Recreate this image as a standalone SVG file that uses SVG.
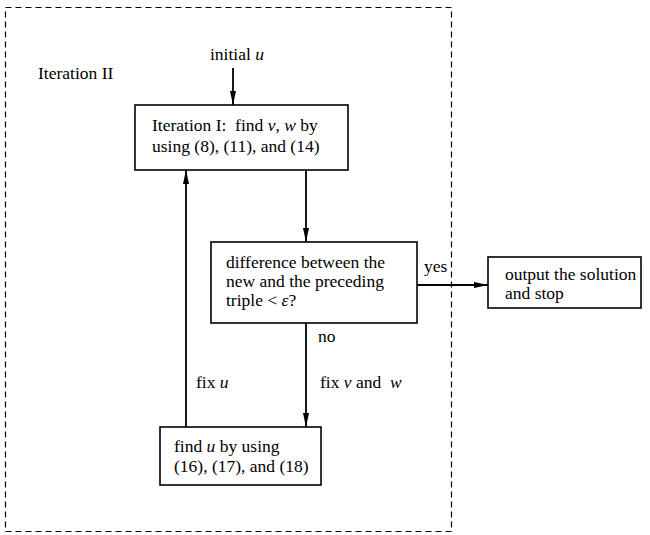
<svg xmlns="http://www.w3.org/2000/svg" width="650" height="535" viewBox="0 0 650 535">
<style>
text{font-family:"Liberation Serif","Times New Roman",serif;font-size:17.5px;fill:#000}
.box{fill:#fff;stroke:#000;stroke-width:1.6}
.ln{stroke:#000;stroke-width:1.8;fill:none}
.dash{fill:none;stroke:#000;stroke-width:1.2;stroke-dasharray:6,4}
</style>
<defs>
<marker id="ah" markerWidth="14" markerHeight="8" refX="14" refY="4" orient="auto" markerUnits="userSpaceOnUse">
<path d="M0,1 L14,4 L0,7 Z" fill="#000"/>
</marker>
</defs>
<rect class="dash" x="5.5" y="7.5" width="446" height="524"/>
<text x="38" y="79">Iteration II</text>
<g id="iter1">
<rect class="box" x="135" y="105" width="213" height="65"/>
<text x="152" y="131">Iteration I:&#160; find <tspan font-style="italic">v</tspan>, <tspan font-style="italic">w</tspan> by</text>
<text x="152" y="152">using (8), (11), and (14)</text>
</g>
<g id="decision">
<rect class="box" x="211" y="242" width="206" height="81"/>
<text x="226" y="268">difference between the</text>
<text x="226" y="287">new and the preceding</text>
<text x="226" y="306">triple &lt; <tspan font-style="italic">ε</tspan>?</text>
</g>
<g id="output">
<rect class="box" x="488" y="257" width="153" height="51"/>
<text x="505" y="280">output the solution</text>
<text x="505" y="299">and stop</text>
</g>
<g id="findu">
<rect class="box" x="160" y="427" width="161" height="58"/>
<text x="174" y="452">find <tspan font-style="italic">u</tspan> by using</text>
<text x="174" y="472">(16), (17), and (18)</text>
</g>
<g id="connectors">
<text x="210" y="60">initial <tspan font-style="italic">u</tspan></text>
<line class="ln" x1="233" y1="68" x2="233" y2="105" marker-end="url(#ah)"/>
<line class="ln" x1="306" y1="170" x2="306" y2="242" marker-end="url(#ah)"/>
<line class="ln" x1="417" y1="285" x2="488" y2="285" marker-end="url(#ah)"/>
<text x="424" y="272">yes</text>
<line class="ln" x1="306" y1="323" x2="306" y2="427" marker-end="url(#ah)"/>
<text x="318" y="342">no</text>
<text x="320" y="388">fix <tspan font-style="italic">v</tspan> and&#160; <tspan font-style="italic">w</tspan></text>
<line class="ln" x1="186" y1="427" x2="186" y2="170" marker-end="url(#ah)"/>
<text x="196" y="388">fix <tspan font-style="italic">u</tspan></text>
</g>
</svg>
